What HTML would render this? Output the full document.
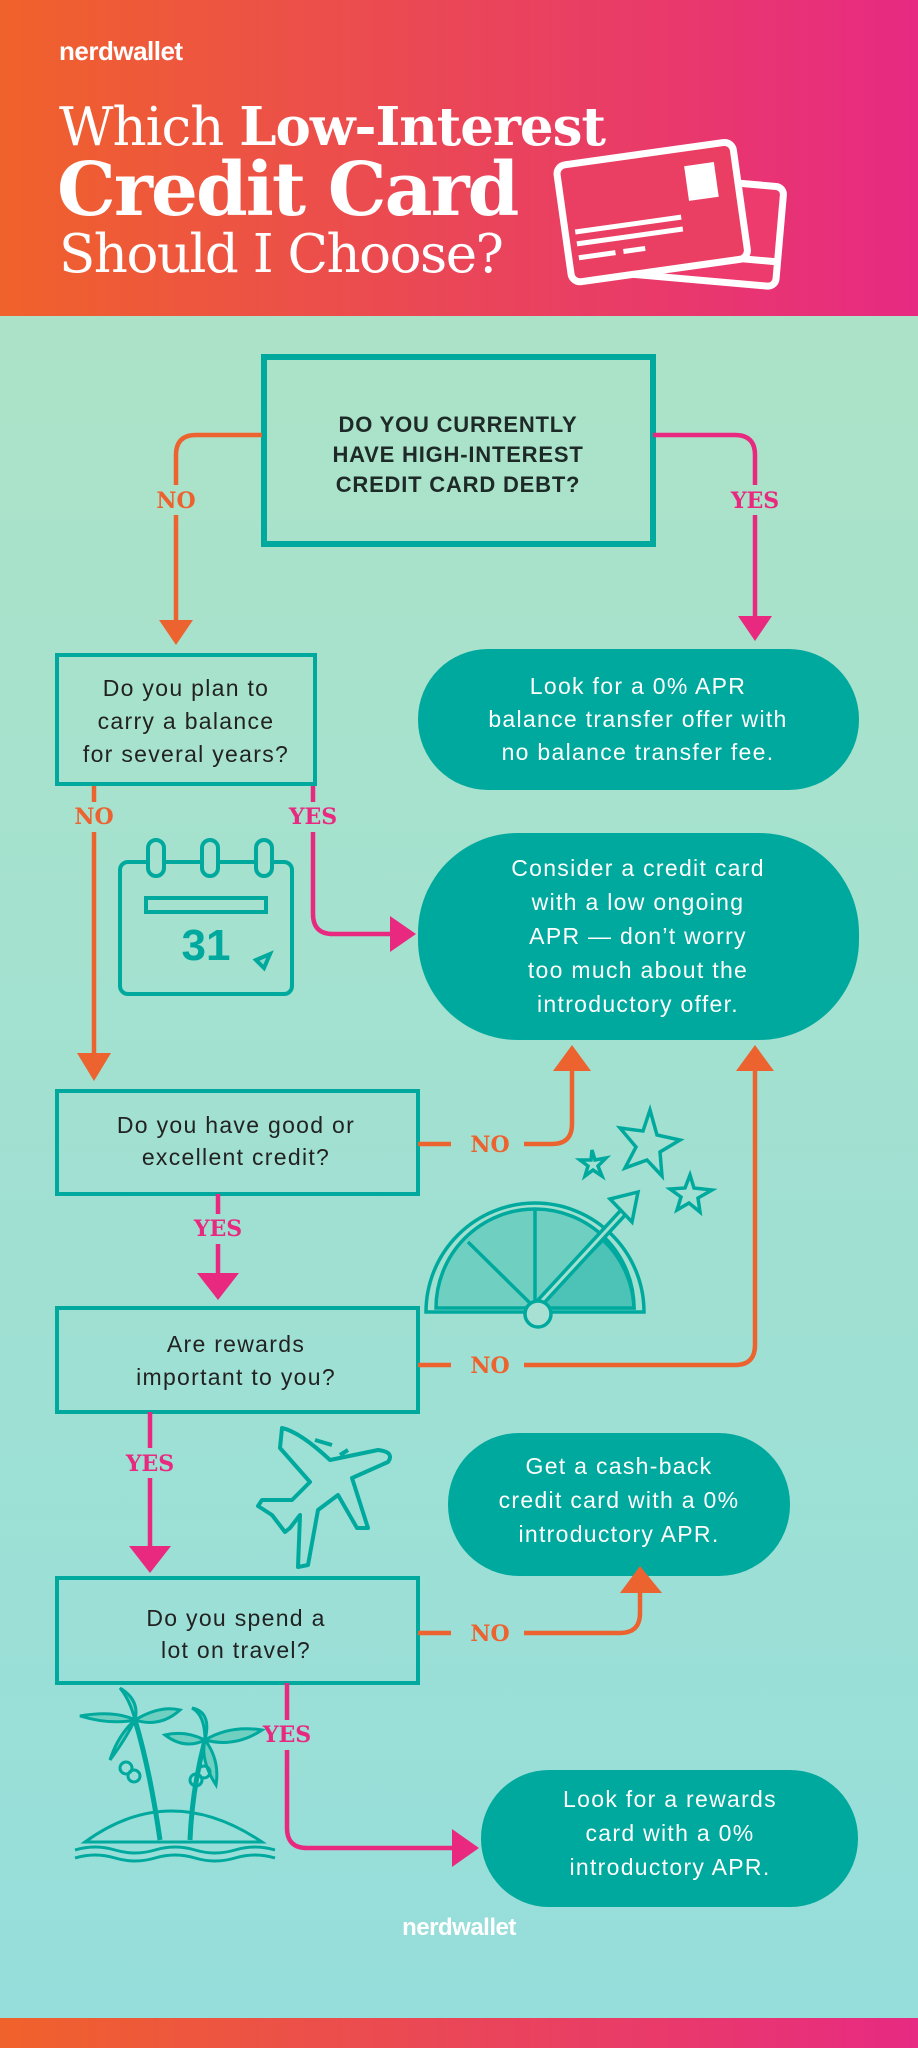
<!DOCTYPE html>
<html><head><meta charset="utf-8"><style>
html,body{margin:0;padding:0;width:918px;height:2048px;overflow:hidden}
svg{display:block}
.q{font-family:"Liberation Sans",sans-serif;font-size:23px;fill:#222;letter-spacing:1.3px;text-anchor:middle}
.p{font-family:"Liberation Sans",sans-serif;font-size:23px;fill:#fff;letter-spacing:1.3px;text-anchor:middle}
.lb{font-family:"DejaVu Serif","Liberation Serif",serif;font-weight:bold;font-size:22px;text-anchor:middle}
</style></head><body>
<svg width="918" height="2048" viewBox="0 0 918 2048" xmlns="http://www.w3.org/2000/svg">
<defs>
<linearGradient id="hg" x1="0" x2="1" y1="0" y2="0"><stop offset="0" stop-color="#f0622b"/><stop offset="0.5" stop-color="#ea4658"/><stop offset="1" stop-color="#e72a82"/></linearGradient>
<linearGradient id="bg" x1="0" x2="0" y1="0" y2="1"><stop offset="0" stop-color="#ace3c8"/><stop offset="1" stop-color="#96dedb"/></linearGradient>
</defs>
<rect x="0" y="316" width="918" height="1702" fill="url(#bg)"/>
<rect x="0" y="0" width="918" height="316" fill="url(#hg)"/>
<rect x="0" y="2018" width="918" height="30" fill="url(#hg)"/>
<text x="59" y="60" font-family="Liberation Sans,sans-serif" font-weight="bold" font-size="26" fill="#fff" letter-spacing="-0.5">nerdwallet</text>
<text x="59" y="145" font-family="DejaVu Serif,serif" font-size="53" fill="#fff" letter-spacing="-1"><tspan font-weight="normal">Which </tspan><tspan font-weight="bold">Low-Interest</tspan></text>
<text x="57" y="215" font-family="DejaVu Serif,serif" font-weight="bold" font-size="74" fill="#fff" letter-spacing="-2">Credit Card</text>
<text x="59" y="272" font-family="DejaVu Serif,serif" font-size="53" fill="#fff" letter-spacing="-1.5">Should I Choose?</text>
<!-- cards -->
<g fill="none" stroke="#fff" stroke-width="7">
<g transform="rotate(5 700 230)"><rect x="618" y="180" width="162" height="100" rx="8" fill="#ec3b6c"/><line x1="618" y1="255" x2="780" y2="255"/></g>
<g transform="rotate(-8 660 210)"><rect x="563" y="152" width="178" height="118" rx="9" fill="#ea3f63"/>
<rect x="690" y="170" width="30" height="35" fill="#fff" stroke="none"/>
<line x1="573" y1="220" x2="680" y2="220" stroke-width="5"/><line x1="573" y1="232" x2="680" y2="232" stroke-width="5"/><line x1="573" y1="246" x2="610" y2="246" stroke-width="5"/><line x1="618" y1="246" x2="640" y2="246" stroke-width="5"/></g>
</g>
<!-- boxes -->
<g fill="none" stroke="#00a99d" stroke-width="5">
<rect x="264" y="357" width="389" height="187" stroke-width="6"/>
<rect x="57" y="655" width="258" height="129" stroke-width="4"/>
<rect x="57" y="1091" width="361" height="103" stroke-width="4"/>
<rect x="57" y="1308" width="361" height="104" stroke-width="4"/>
<rect x="57" y="1578" width="361" height="105" stroke-width="4"/>
</g>
<g font-family="Liberation Sans,sans-serif" font-weight="bold" font-size="22" fill="#1e2a28" text-anchor="middle" letter-spacing="0.8">
<text x="458" y="432">DO YOU CURRENTLY</text><text x="458" y="462">HAVE HIGH-INTEREST</text><text x="458" y="492">CREDIT CARD DEBT?</text></g>
<text class="q" x="186" y="696">Do you plan to</text><text class="q" x="186" y="729">carry a balance</text><text class="q" x="186" y="762">for several years?</text>
<text class="q" x="236" y="1133">Do you have good or</text><text class="q" x="236" y="1165">excellent credit?</text>
<text class="q" x="236" y="1352">Are rewards</text><text class="q" x="236" y="1385">important to you?</text>
<text class="q" x="236" y="1626">Do you spend a</text><text class="q" x="236" y="1658">lot on travel?</text>
<!-- pills -->
<g fill="#00a99d">
<rect x="418" y="649" width="441" height="141" rx="70"/>
<rect x="418" y="833" width="441" height="207" rx="100"/>
<rect x="448" y="1433" width="342" height="143" rx="71"/>
<rect x="481" y="1770" width="377" height="137" rx="68"/>
</g>
<text class="p" x="638" y="694">Look for a 0% APR</text><text class="p" x="638" y="727">balance transfer offer with</text><text class="p" x="638" y="760">no balance transfer fee.</text>
<text class="p" x="638" y="876">Consider a credit card</text><text class="p" x="638" y="910">with a low ongoing</text><text class="p" x="638" y="944">APR — don’t worry</text><text class="p" x="638" y="978">too much about the</text><text class="p" x="638" y="1012">introductory offer.</text>
<text class="p" x="619" y="1474">Get a cash-back</text><text class="p" x="619" y="1508">credit card with a 0%</text><text class="p" x="619" y="1542">introductory APR.</text>
<text class="p" x="670" y="1807">Look for a rewards</text><text class="p" x="670" y="1841">card with a 0%</text><text class="p" x="670" y="1875">introductory APR.</text>
<!-- orange connectors -->
<g fill="none" stroke="#ec6330" stroke-width="4.5">
<path d="M262,435 H196 Q176,435 176,455 V485"/><path d="M176,515 V622"/>
<path d="M94,786 V802"/><path d="M94,832 V1055"/>
<path d="M418,1144 H451"/><path d="M524,1144 H552 Q572,1144 572,1124 V1069"/>
<path d="M418,1365 H451"/><path d="M524,1365 H735 Q755,1365 755,1345 V1069"/>
<path d="M418,1633 H451"/><path d="M524,1633 H620 Q640,1633 640,1613 V1592"/>
</g>
<g fill="#ec6330">
<polygon points="159,620 193,620 176,645"/>
<polygon points="77,1053 111,1053 94,1081"/>
<polygon points="553,1071 591,1071 572,1045"/>
<polygon points="736,1071 774,1071 755,1045"/>
<polygon points="620,1593 662,1593 640,1566"/>
</g>
<text class="lb" x="176" y="508" fill="#ec6330">NO</text>
<text class="lb" x="94" y="824" fill="#ec6330">NO</text>
<text class="lb" x="490" y="1152" fill="#ec6330">NO</text>
<text class="lb" x="490" y="1373" fill="#ec6330">NO</text>
<text class="lb" x="490" y="1641" fill="#ec6330">NO</text>
<!-- pink connectors -->
<g fill="none" stroke="#e8297f" stroke-width="4.5">
<path d="M653,435 H735 Q755,435 755,455 V485"/><path d="M755,515 V618"/>
<path d="M313,786 V802"/><path d="M313,832 V914 Q313,934 333,934 H392"/>
<path d="M218,1194 V1214"/><path d="M218,1244 V1275"/>
<path d="M150,1412 V1448"/><path d="M150,1478 V1548"/>
<path d="M287,1683 V1720"/><path d="M287,1750 V1828 Q287,1848 307,1848 H453"/>
</g>
<g fill="#e8297f">
<polygon points="738,616 772,616 755,641"/>
<polygon points="390,916 390,952 416,934"/>
<polygon points="197,1273 239,1273 218,1300"/>
<polygon points="129,1546 171,1546 150,1573"/>
<polygon points="452,1829 452,1867 479,1848"/>
</g>
<text class="lb" x="755" y="508" fill="#e8297f">YES</text>
<text class="lb" x="313" y="824" fill="#e8297f">YES</text>
<text class="lb" x="218" y="1236" fill="#e8297f">YES</text>
<text class="lb" x="150" y="1471" fill="#e8297f">YES</text>
<text class="lb" x="287" y="1742" fill="#e8297f">YES</text>
<!-- calendar -->
<g fill="none" stroke="#00a99d" stroke-width="4">
<rect x="120" y="862" width="172" height="132" rx="8"/>
<rect x="146" y="898" width="120" height="14"/>
<rect x="148" y="840" width="16" height="36" rx="8" fill="#a6e1cf"/><rect x="202" y="840" width="16" height="36" rx="8" fill="#a6e1cf"/><rect x="256" y="840" width="16" height="36" rx="8" fill="#a6e1cf"/>
<path d="M256,960 L270,954 L264,968 Z" fill="#8fd8c7"/>
</g>
<text x="206" y="960" font-family="Liberation Sans,sans-serif" font-weight="bold" font-size="44" fill="#00a99d" text-anchor="middle">31</text>
<!-- speedometer -->
<g stroke="#00a99d" stroke-width="3.5">
<path d="M426,1312 A109,109 0 0 1 644,1312 Z" fill="#a0e0d0"/>
<path d="M436,1308 A99,99 0 0 1 634,1308 Z" fill="#6fd0c2"/>
<line x1="535" y1="1308" x2="468" y2="1242"/><line x1="535" y1="1308" x2="535" y2="1210"/><line x1="535" y1="1308" x2="603" y2="1240" />
<path d="M535,1308 L603,1240 A99,99 0 0 1 634,1308 Z" fill="#4cc3b6"/>
<line x1="535" y1="1308" x2="630" y2="1205" stroke-width="10"/>
<line x1="535" y1="1308" x2="630" y2="1205" stroke="#a0e0d0" stroke-width="3"/>
<polygon points="610,1199 638,1192 632,1222" fill="#a0e0d0"/>
<circle cx="538" cy="1314" r="13" fill="#a8e1d3"/>
</g>
<g fill="none" stroke="#00a99d" stroke-width="3.5">
<polygon points="650,1110 657,1135 680,1140 660,1152 662,1176 647,1160 625,1168 636,1147 620,1128 643,1131"/>
<polygon points="592,1150 595,1160 606,1158 598,1166 602,1176 593,1170 585,1176 588,1166 580,1160 591,1160"/>
<polygon points="690,1175 694,1188 712,1190 698,1198 700,1212 689,1203 677,1210 681,1197 670,1189 685,1188"/>
</g>
<!-- airplane -->
<g fill="none" stroke="#00a99d" stroke-width="4" stroke-linejoin="round">
<path d="M282,1428 Q300,1432 330,1460 L378,1450 Q395,1452 388,1462 L352,1478 L368,1528 L357,1528 L338,1495 L318,1510 L308,1565 L298,1567 L300,1515 L290,1528 L285,1532 L272,1515 L258,1506 L262,1500 L292,1500 L310,1482 L280,1448 Z"/>
<line x1="315" y1="1440" x2="332" y2="1445"/><line x1="340" y1="1455" x2="348" y2="1450"/>
</g>
<!-- island -->
<g stroke="#00a99d" stroke-width="3" fill="#6fd0c2">
<path d="M85,1842 Q170,1780 262,1842 Z" fill="none"/>
<path d="M75,1850 q20,-6 40,0 t40,0 t40,0 t40,0 t40,0" fill="none"/>
<path d="M75,1858 q20,-6 40,0 t40,0 t40,0 t40,0 t40,0" fill="none"/>
<path d="M135,1720 Q150,1770 160,1840" fill="none" stroke-width="5"/>
<path d="M205,1740 Q192,1790 190,1840" fill="none" stroke-width="5"/>
<path d="M135,1720 Q118,1735 110,1760 Q125,1740 135,1720Z"/>
<path d="M135,1720 Q115,1710 80,1716 Q110,1725 135,1720Z"/>
<path d="M135,1720 Q130,1700 120,1688 Q140,1700 135,1720Z"/>
<path d="M135,1720 Q160,1705 180,1710 Q160,1728 135,1720Z"/>
<path d="M205,1740 Q185,1730 165,1735 Q185,1750 205,1740Z"/>
<path d="M205,1740 Q205,1715 192,1708 Q212,1712 205,1740Z"/>
<path d="M205,1740 Q230,1725 262,1730 Q235,1748 205,1740Z"/>
<path d="M205,1740 Q220,1760 216,1785 Q200,1760 205,1740Z"/>
<circle cx="126" cy="1768" r="6" fill="none"/><circle cx="134" cy="1776" r="6" fill="none"/><circle cx="196" cy="1780" r="6" fill="none"/><circle cx="204" cy="1772" r="6" fill="none"/>
</g>
<text x="459" y="1935" font-family="Liberation Sans,sans-serif" font-weight="bold" font-size="24" fill="#fff" text-anchor="middle" letter-spacing="-0.5">nerdwallet</text>
</svg>
</body></html>
